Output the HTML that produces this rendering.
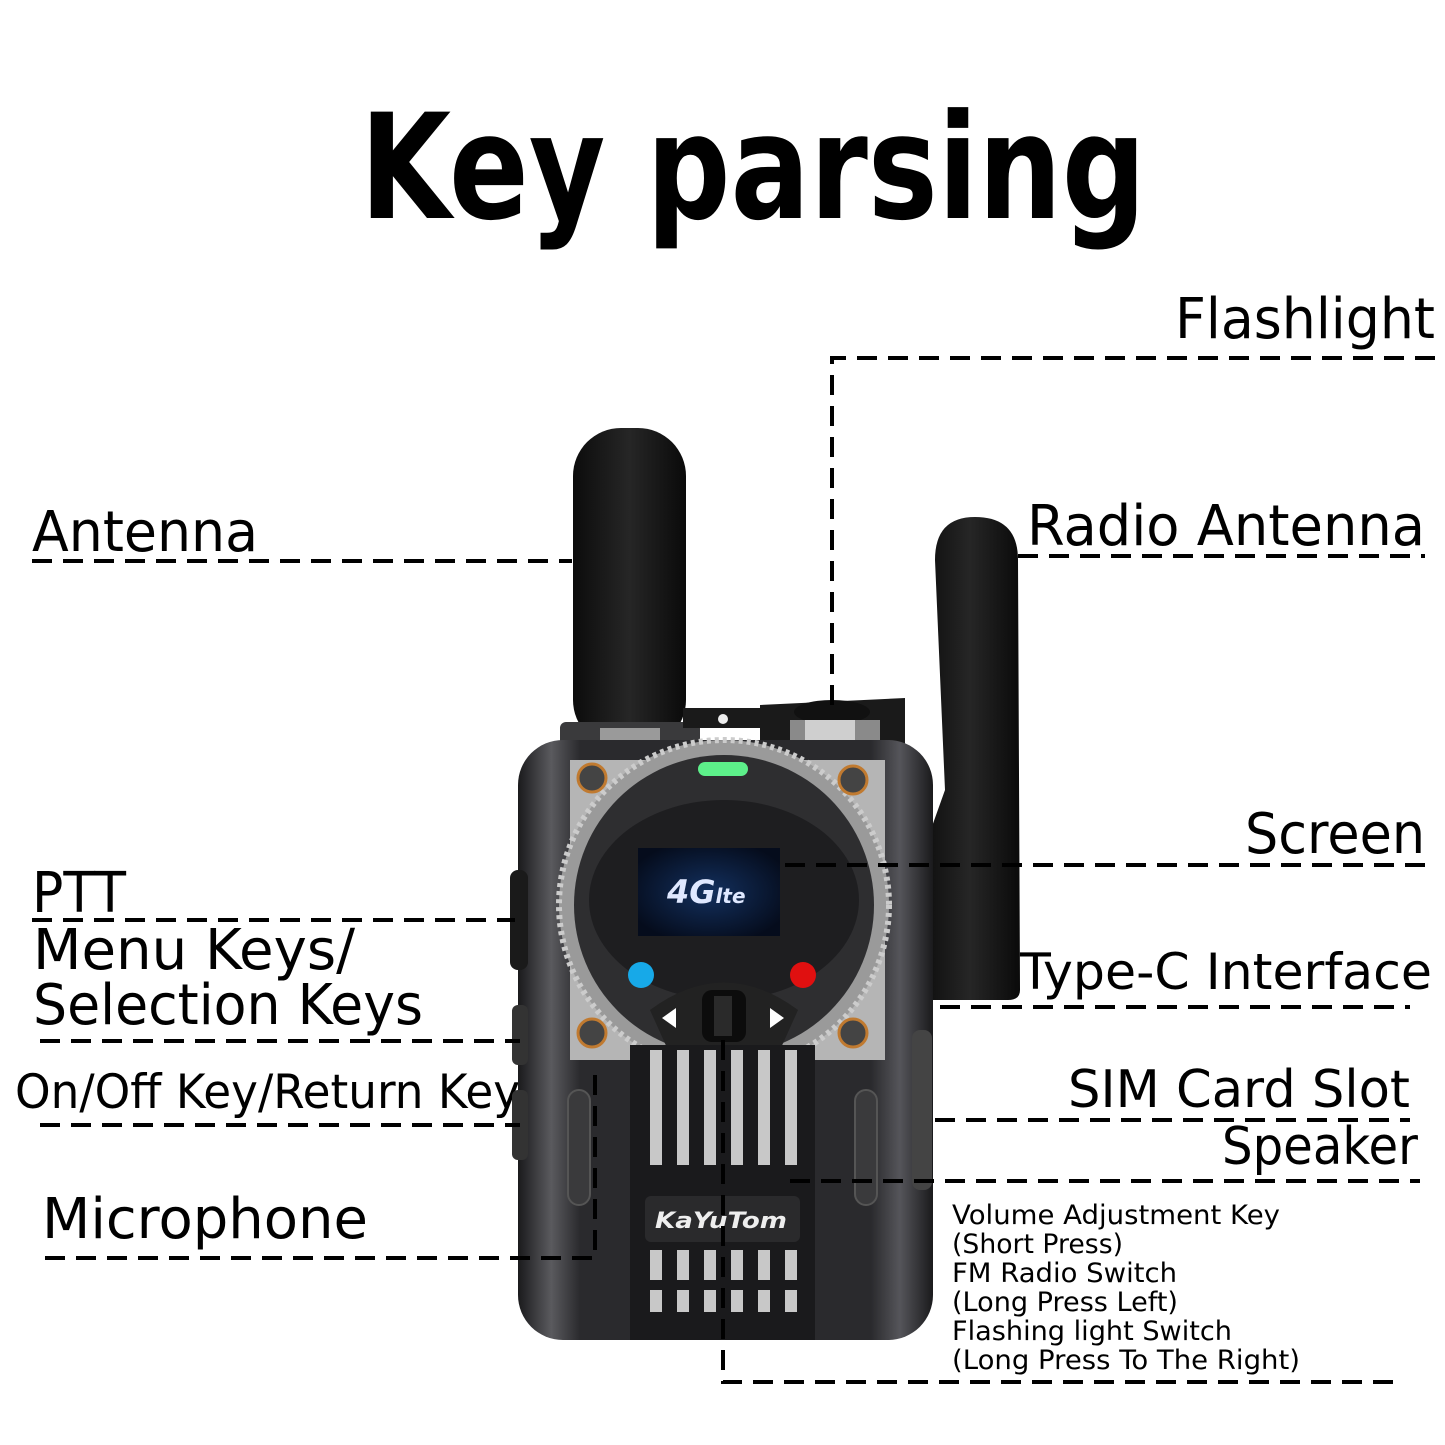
<!DOCTYPE html>
<html><head><meta charset="utf-8"><style>html,body{margin:0;padding:0;background:#fff}svg{display:block}</style></head>
<body>
<svg width="1445" height="1445" viewBox="0 0 1445 1445" xmlns="http://www.w3.org/2000/svg">
<defs>
<linearGradient id="ant" x1="0" x2="1"><stop offset="0" stop-color="#0c0c0c"/><stop offset="0.5" stop-color="#262626"/><stop offset="1" stop-color="#0a0a0a"/></linearGradient>
<linearGradient id="body" x1="0" x2="1"><stop offset="0" stop-color="#1a1a1c"/><stop offset="0.08" stop-color="#5a5a5e"/><stop offset="0.15" stop-color="#2a2a2d"/><stop offset="0.85" stop-color="#2a2a2d"/><stop offset="0.92" stop-color="#55555a"/><stop offset="1" stop-color="#1a1a1c"/></linearGradient>
<radialGradient id="scr" cx="0.5" cy="0.5" r="0.6"><stop offset="0" stop-color="#13305e"/><stop offset="1" stop-color="#050c1c"/></radialGradient>
</defs>
<g font-family="DejaVu Sans, Liberation Sans, sans-serif" fill="#000">
<text x="360" y="218" font-size="146" font-weight="bold" textLength="786" lengthAdjust="spacingAndGlyphs">Key parsing</text>
<text x="1175" y="338" font-size="56" textLength="260" lengthAdjust="spacingAndGlyphs">Flashlight</text>
<text x="32" y="551" font-size="56" textLength="226" lengthAdjust="spacingAndGlyphs">Antenna</text>
<text x="1027" y="545" font-size="56" textLength="398" lengthAdjust="spacingAndGlyphs">Radio Antenna</text>
<text x="1245" y="853" font-size="56" textLength="180" lengthAdjust="spacingAndGlyphs">Screen</text>
<text x="32" y="912" font-size="56" textLength="94" lengthAdjust="spacingAndGlyphs">PTT</text>
<text x="33" y="969" font-size="56" textLength="322" lengthAdjust="spacingAndGlyphs">Menu Keys/</text>
<text x="33" y="1024" font-size="56" textLength="390" lengthAdjust="spacingAndGlyphs">Selection Keys</text>
<text x="15" y="1108" font-size="47" textLength="505" lengthAdjust="spacingAndGlyphs">On/Off Key/Return Key</text>
<text x="42" y="1238" font-size="56" textLength="326" lengthAdjust="spacingAndGlyphs">Microphone</text>
<text x="1020" y="989" font-size="50" textLength="412" lengthAdjust="spacingAndGlyphs">Type-C Interface</text>
<text x="1068" y="1107" font-size="52" textLength="342" lengthAdjust="spacingAndGlyphs">SIM Card Slot</text>
<text x="1222" y="1164" font-size="52" textLength="196" lengthAdjust="spacingAndGlyphs">Speaker</text>
<g font-size="27">
<text x="952" y="1224" textLength="328" lengthAdjust="spacingAndGlyphs">Volume Adjustment Key</text>
<text x="952" y="1253" textLength="171" lengthAdjust="spacingAndGlyphs">(Short Press)</text>
<text x="952" y="1282" textLength="225" lengthAdjust="spacingAndGlyphs">FM Radio Switch</text>
<text x="952" y="1311" textLength="226" lengthAdjust="spacingAndGlyphs">(Long Press Left)</text>
<text x="952" y="1340" textLength="280" lengthAdjust="spacingAndGlyphs">Flashing light Switch</text>
<text x="952" y="1369" textLength="348" lengthAdjust="spacingAndGlyphs">(Long Press To The Right)</text>
</g>
</g>

<!-- device -->
<!-- right antenna -->
<path d="M935 560 Q935 517 975 517 Q1018 517 1018 560 L1020 990 Q1020 1000 1008 1000 L930 1000 L920 860 L945 790 L935 560 Z" fill="url(#ant)"/>
<!-- left antenna -->
<rect x="573" y="428" width="113" height="320" rx="48" fill="url(#ant)"/>
<!-- top hardware -->
<rect x="560" y="722" width="140" height="30" rx="6" fill="#3a3a3c"/>
<rect x="600" y="728" width="60" height="22" fill="#9a9a9a"/>
<rect x="683" y="708" width="100" height="20" fill="#1a1a1a"/>
<circle cx="723" cy="719" r="5" fill="#eee"/>
<path d="M760 705 L905 698 L905 760 L760 760 Z" fill="#1a1a1a"/>
<ellipse cx="832" cy="712" rx="38" ry="12" fill="#111"/>
<rect x="790" y="720" width="90" height="30" fill="#8a8a8a"/>
<rect x="805" y="720" width="50" height="30" fill="#cfcfcf"/>
<!-- body -->
<rect x="518" y="740" width="415" height="600" rx="45" fill="url(#body)"/>
<rect x="510" y="870" width="18" height="100" rx="8" fill="#1a1a1a"/>
<rect x="512" y="1005" width="16" height="60" rx="6" fill="#333"/>
<rect x="512" y="1090" width="16" height="70" rx="6" fill="#333"/>
<rect x="912" y="1030" width="20" height="160" rx="8" fill="#444"/>
<!-- silver plates -->
<path d="M570 760 L700 760 L700 1060 L570 1060 Z" fill="#b5b5b5"/>
<path d="M750 760 L885 760 L885 1060 L750 1060 Z" fill="#b5b5b5"/>
<circle cx="724" cy="905" r="165" fill="#9a9a9a" stroke="#ccc" stroke-width="6" stroke-dasharray="4 4"/>
<circle cx="724" cy="905" r="150" fill="#2e2e30"/>
<ellipse cx="724" cy="900" rx="135" ry="100" fill="#1e1e20"/>
<rect x="638" y="848" width="142" height="88" fill="url(#scr)"/>
<text x="667" y="903" font-family="DejaVu Sans, sans-serif" font-weight="bold" font-size="32" fill="#dfe8ff" font-style="italic">4G<tspan font-size="20">lte</tspan></text>
<rect x="698" y="762" width="50" height="14" rx="7" fill="#5df08a"/>
<circle cx="641" cy="975" r="13" fill="#17a9e8"/>
<circle cx="803" cy="975" r="13" fill="#e01010"/>
<path d="M650 1010 Q724 955 798 1010 L780 1050 L668 1050 Z" fill="#222"/>
<rect x="702" y="990" width="44" height="52" rx="10" fill="#0c0c0c"/>
<rect x="714" y="996" width="18" height="40" fill="#2a2a2a"/>
<path d="M676 1008 L662 1018 L676 1028 Z" fill="#fff"/>
<path d="M770 1008 L784 1018 L770 1028 Z" fill="#fff"/>
<!-- screws -->
<g fill="#444" stroke="#c07a30" stroke-width="3">
<circle cx="592" cy="778" r="14"/><circle cx="853" cy="780" r="14"/>
<circle cx="592" cy="1033" r="14"/><circle cx="853" cy="1033" r="14"/>
</g>
<!-- grill -->
<rect x="630" y="1045" width="185" height="295" fill="#1a1a1c"/>
<g fill="#c8c8c8">
<rect x="650" y="1050" width="12" height="115"/><rect x="677" y="1050" width="12" height="115"/>
<rect x="704" y="1050" width="12" height="115"/><rect x="731" y="1050" width="12" height="115"/>
<rect x="758" y="1050" width="12" height="115"/><rect x="785" y="1050" width="12" height="115"/>
<rect x="650" y="1250" width="12" height="30"/><rect x="677" y="1250" width="12" height="30"/>
<rect x="704" y="1250" width="12" height="30"/><rect x="731" y="1250" width="12" height="30"/>
<rect x="758" y="1250" width="12" height="30"/><rect x="785" y="1250" width="12" height="30"/>
<rect x="650" y="1290" width="12" height="22"/><rect x="677" y="1290" width="12" height="22"/>
<rect x="704" y="1290" width="12" height="22"/><rect x="731" y="1290" width="12" height="22"/>
<rect x="758" y="1290" width="12" height="22"/><rect x="785" y="1290" width="12" height="22"/>
</g>
<rect x="645" y="1196" width="155" height="46" rx="6" fill="#2a2a2c"/>
<text x="655" y="1228" font-family="DejaVu Sans, sans-serif" font-weight="bold" font-style="italic" font-size="22" fill="#eee" textLength="132" lengthAdjust="spacingAndGlyphs">KaYuTom</text>
<rect x="568" y="1090" width="22" height="115" rx="11" fill="#3a3a3c" stroke="#555" stroke-width="2"/>
<rect x="855" y="1090" width="22" height="115" rx="11" fill="#3a3a3c" stroke="#555" stroke-width="2"/>

<!-- dashed lines -->
<g stroke="#000" stroke-width="4" fill="none" stroke-dasharray="20 11">
<path d="M1435 358 L832 358 L832 705"/>
<path d="M32 561 L572 561"/>
<path d="M1018 556 L1425 556"/>
<path d="M785 865 L1425 865"/>
<path d="M32 920 L515 920"/>
<path d="M40 1041 L520 1041"/>
<path d="M40 1125 L520 1125"/>
<path d="M45 1258 L595 1258 L595 1075"/>
<path d="M940 1007 L1410 1007"/>
<path d="M935 1120 L1410 1120"/>
<path d="M790 1181 L1420 1181"/>
<path d="M723 1040 L723 1382 L1400 1382"/>
</g>
</svg>
</body></html>
